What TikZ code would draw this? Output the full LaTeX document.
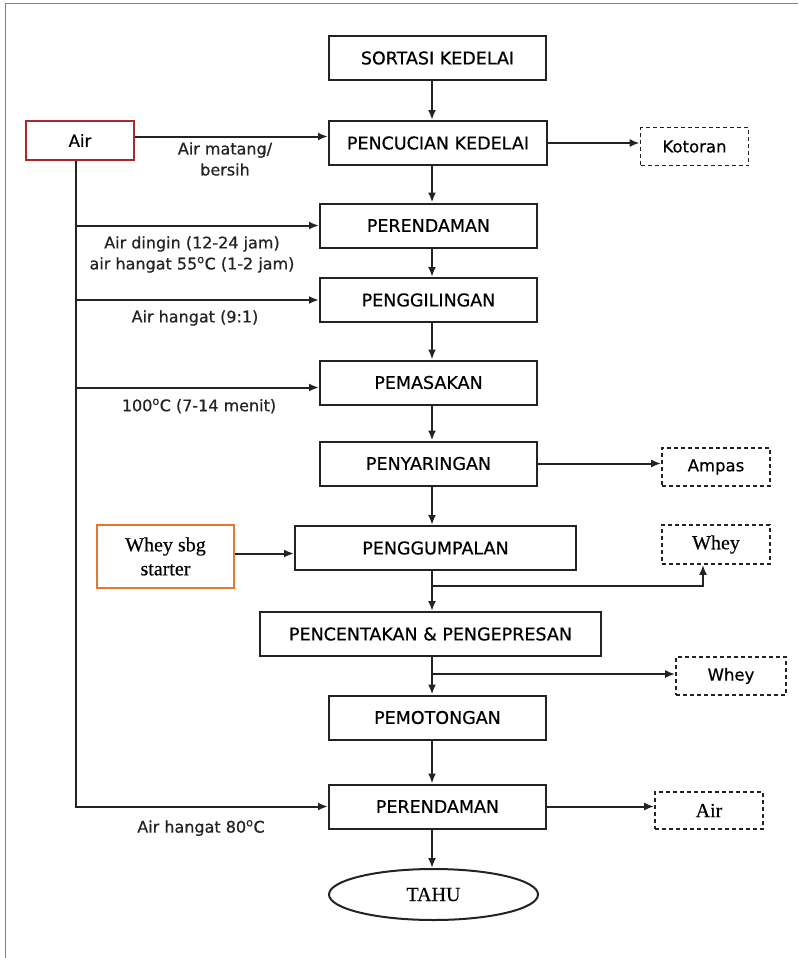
\documentclass[tikz,border=0pt]{standalone}
\usepackage{fontspec}
\setmainfont[FakeBold=0.6]{DejaVu Sans}
\newfontfamily\serifx[FakeBold=0.4]{Liberation Serif}
\usetikzlibrary{arrows.meta,shapes.geometric,calc}
\definecolor{airred}{RGB}{172,40,45}
\definecolor{whorange}{RGB}{228,120,48}
\definecolor{ink}{RGB}{35,35,35}
\begin{document}
\begin{tikzpicture}[x=1pt,y=-1pt,
  proc/.style={draw=ink, line width=2pt, minimum width=#1, minimum height=44pt, inner sep=0pt, font=\fontsize{17.5}{20}\selectfont},
  proc/.default=217pt,
  waste/.style={draw=ink, line width=1.7pt, dashed, dash pattern=on 4pt off 3pt, minimum width=108pt, minimum height=38pt, inner sep=0pt},
  sanslab/.style={font=\fontsize{16.5}{19}\selectfont},
  seriflab/.style={font=\serifx\fontsize{20}{22}\selectfont},
  lab/.style={inner sep=0pt, align=center, font=\fontsize{16}{21}\selectfont, text=ink},
  conn/.style={draw=ink, line width=2pt, -{Latex[length=10pt,width=8pt]}},
  plain/.style={draw=ink, line width=2pt}]
\useasboundingbox (0,0) rectangle (798,958);
\draw[gray, line width=1pt] (5.5,958) -- (5.5,3.5) -- (798,3.5);

% main column
\node[proc] (sort) at (437.5,58) {SORTASI KEDELAI};
\node[proc=218pt] (cuci) at (438,143) {PENCUCIAN KEDELAI};
\node[proc] (rend1) at (428.5,225.5) {PERENDAMAN};
\node[proc] (giling) at (428.5,300) {PENGGILINGAN};
\node[proc] (masak) at (428.5,382.5) {PEMASAKAN};
\node[proc] (saring) at (428.5,463.5) {PENYARINGAN};
\node[proc=281pt] (gumpal) at (435.5,548) {PENGGUMPALAN};
\node[proc=341pt] (cetak) at (430.5,634) {PENCENTAKAN \& PENGEPRESAN};
\node[proc] (potong) at (437.5,717.5) {PEMOTONGAN};
\node[proc] (rend2) at (437.5,806.5) {PERENDAMAN};
\node[draw=ink, line width=2pt, ellipse, minimum width=209pt, minimum height=51pt, inner sep=0pt, seriflab] (tahu) at (433.5,894.5) {TAHU};

% inputs
\node[draw=airred, line width=2.4pt, minimum width=108pt, minimum height=39pt, inner sep=0pt, sanslab] (air) at (80,140.5) {Air};
\node[draw=whorange, line width=2.4pt, minimum width=137pt, minimum height=63pt, inner sep=0pt, align=center, font=\serifx\fontsize{20}{24}\selectfont] (starter) at (165.5,556.5) {Whey sbg\\starter};

% outputs
\node[waste, sanslab] (kotoran) at (694.5,146.5) {Kotoran};
\node[waste, sanslab] (ampas) at (716,467) {Ampas};
\node[waste, seriflab, minimum height=39pt] (whey1) at (716,544.5) {Whey};
\node[waste, sanslab, minimum width=110pt] (whey2) at (731,676) {Whey};
\node[waste, seriflab, minimum height=37pt] (air2) at (709,810.5) {Air};

% labels
\node[lab] (l1) at (225,159) {Air matang/\\bersih};
\node[lab] (l2) at (192,254.5) {Air dingin (12-24 jam)\\air hangat 55\textsuperscript{o}C (1-2 jam)};
\node[lab] (l3) at (195,318) {Air hangat (9:1)};
\node[lab] (l4) at (199,406) {100\textsuperscript{o}C (7-14 menit)};
\node[lab] (l5) at (201,828) {Air hangat 80\textsuperscript{o}C};

% spine arrows
\coordinate (spine) at (432,0);
\coordinate (trunk) at (76,0);
\draw[conn] (sort.south -| spine) -- (cuci.north -| spine);
\draw[conn] (cuci.south -| spine) -- (rend1.north -| spine);
\draw[conn] (rend1.south -| spine) -- (giling.north -| spine);
\draw[conn] (giling.south -| spine) -- (masak.north -| spine);
\draw[conn] (masak.south -| spine) -- (saring.north -| spine);
\draw[conn] (saring.south -| spine) -- (gumpal.north -| spine);
\draw[conn] (gumpal.south -| spine) -- (cetak.north -| spine);
\draw[conn] (cetak.south -| spine) -- (potong.north -| spine);
\draw[conn] (potong.south -| spine) -- (rend2.north -| spine);
\draw[conn] (rend2.south -| spine) -- (tahu.north -| spine);

% water feed
\coordinate (a1) at ($(air.east)+(0,-4)$);
\draw[conn] (a1) -- (a1 -| cuci.west);
\draw[conn] (air.south -| trunk) |- (rend2.west);
\draw[conn] (trunk |- rend1.west) -- (rend1.west);
\draw[conn] (trunk |- giling.west) -- (giling.west);
\coordinate (a4) at ($(masak.west)+(0,5)$);
\draw[conn] (trunk |- a4) -- (a4);

% starter
\coordinate (s1) at ($(starter.east)+(0,-3)$);
\draw[conn] (s1) -- (s1 -| gumpal.west);

% waste outputs
\draw[conn] (cuci.east) -- (kotoran.west |- cuci.east);
\draw[conn] (saring.east) -- (ampas.west |- saring.east);
\coordinate (j1) at (432,586);
\draw[conn] (j1) -| ($(whey1.south)+(-13,0)$);
\coordinate (j2) at (432,674);
\draw[conn] (j2) -- (j2 -| whey2.west);
\draw[conn] (rend2.east) -- (air2.west |- rend2.east);
\end{tikzpicture}
\end{document}
